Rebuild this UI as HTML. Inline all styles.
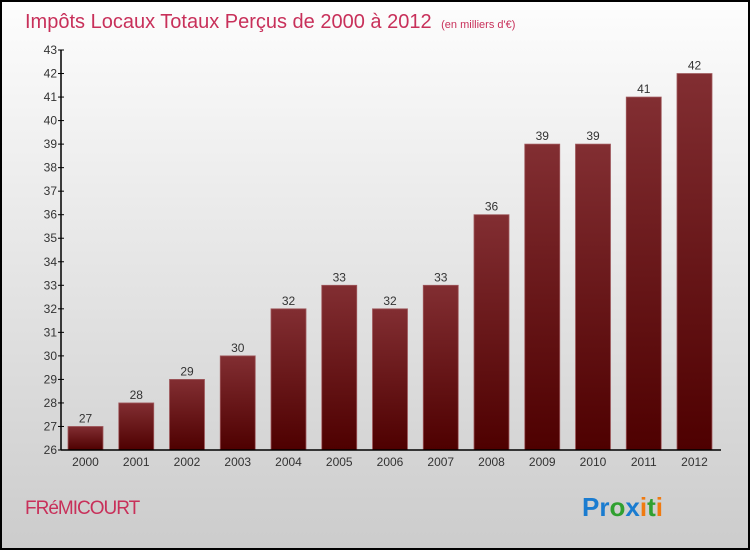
<!DOCTYPE html>
<html><head><meta charset="utf-8"><style>
body{margin:0;}
svg{display:block;font-family:"Liberation Sans",sans-serif;}
</style></head><body>
<svg id="c" width="750" height="550" xmlns="http://www.w3.org/2000/svg">
<defs>
<linearGradient id="bg" x1="0" y1="0" x2="0" y2="1"><stop offset="0" stop-color="#fdfdfd"/><stop offset="1" stop-color="#cccccc"/></linearGradient>
<linearGradient id="bar" x1="0" y1="0" x2="0" y2="1"><stop offset="0" stop-color="#822e32"/><stop offset="1" stop-color="#4e0000"/></linearGradient>
</defs>
<rect x="1" y="1" width="748" height="548" fill="url(#bg)" stroke="#000" stroke-width="2"/>
<text x="25" y="28" font-size="20" fill="#c8305a">Impôts Locaux Totaux Perçus de 2000 à 2012 <tspan font-size="11" dx="4">(en milliers d'€)</tspan></text>
<g id="bars"></g>
<g id="axes"></g>
<text x="25" y="514" font-size="19" fill="#c8305a" letter-spacing="-1">FRéMICOURT</text>
<text x="582" y="516" font-size="26" font-weight="bold"><tspan fill="#1a7cd0">Pr</tspan><tspan fill="#30a030">o</tspan><tspan fill="#1a7cd0">x</tspan><tspan fill="#f07a10">i</tspan><tspan fill="#30a030">t</tspan><tspan fill="#f07a10">i</tspan></text>
</svg>
<script>
const categories=["2000","2001","2002","2003","2004","2005","2006","2007","2008","2009","2010","2011","2012"];
const values=[27,28,29,30,32,33,32,33,36,39,39,41,42];
const yTicks=[26,27,28,29,30,31,32,33,34,35,36,37,38,39,40,41,42,43];
const NS="http://www.w3.org/2000/svg";
const yMin=26,yMax=43,y0=450,y1=50;
function y(v){return y0-(v-yMin)*(y0-y1)/(yMax-yMin);}
function x(i){return 68+i*50.75;}
const bw=35;
const bars=document.getElementById('bars'),axes=document.getElementById('axes');
function mk(tag,attrs,parent){const e=document.createElementNS(NS,tag);for(const k in attrs)e.setAttribute(k,attrs[k]);parent.appendChild(e);return e;}
values.forEach((v,i)=>{
 const r=mk('rect',{x:x(i),y:y(v),width:bw,height:y0-y(v),fill:'url(#bar)',stroke:'#a05a5e','stroke-width':0.8},bars);
 
 
 const t=mk('text',{x:x(i)+bw/2,y:y(v)-4,'font-size':12,'text-anchor':'middle',fill:'#333'},bars);
 t.textContent=v;
 
 
 const c=mk('text',{x:x(i)+bw/2,y:466,'font-size':12,'text-anchor':'middle',fill:'#333'},axes);
 c.textContent=categories[i];
 
 
});
const ya=mk('line',{x1:61,y1:y1,x2:61,y2:y0,stroke:'#000','stroke-width':1.5},axes);


const xa=mk('line',{x1:61,y1:y0,x2:721,y2:y0,stroke:'#000','stroke-width':1.5},axes);


yTicks.forEach(v=>{
 mk('line',{x1:58,y1:y(v),x2:64,y2:y(v),stroke:'#000'},axes);
 const t=mk('text',{x:57,y:y(v)+4,'font-size':12,'text-anchor':'end',fill:'#333'},axes);
 t.textContent=v;
 
 
});
</script>
</body></html>
